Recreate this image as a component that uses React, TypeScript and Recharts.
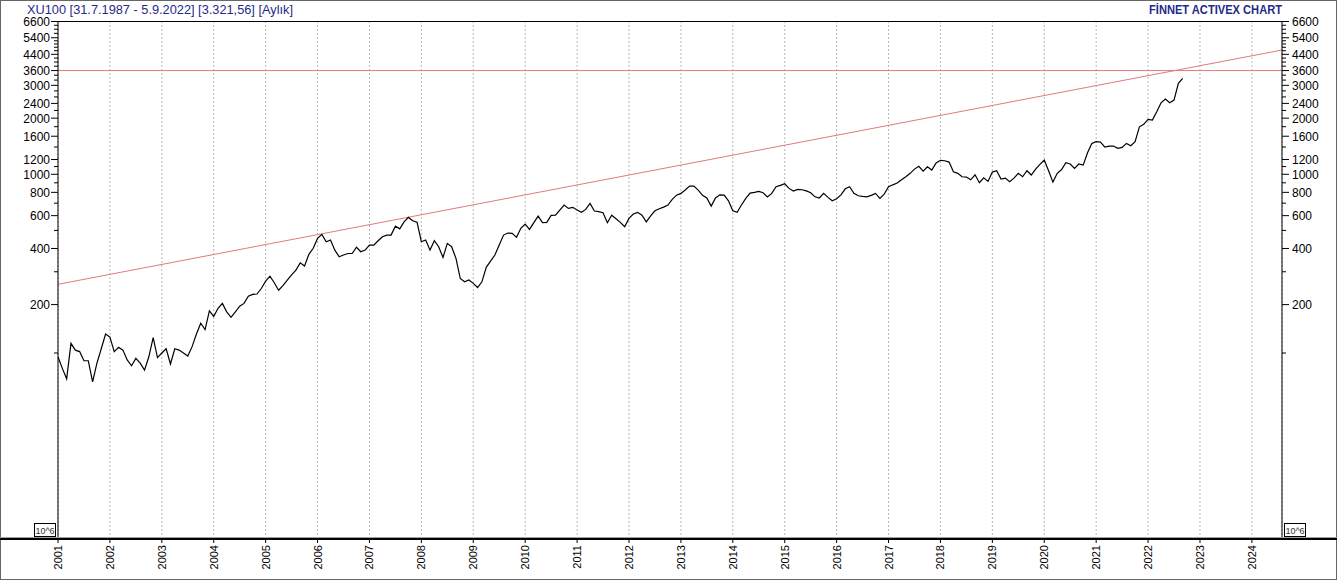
import { CartesianGrid, Line, LineChart, ReferenceLine, XAxis, YAxis } from 'recharts';

const W = 1337;
const H = 580;
const PLOT_LEFT = 58;
const PLOT_RIGHT = 1282;
const PLOT_TOP = 21;
const PLOT_BOTTOM = 538;

const startYear = 2001;

// monthly closes, Jan 2001 .. Sep 2022
const monthlyCloses = [
  105, 91, 80, 124, 114, 112, 100, 100, 77, 97, 116, 139, // 2001
  134, 112, 118, 114, 101, 94, 103, 97, 89, 105, 133, 104, // 2002
  110, 116, 96, 116, 114, 110, 106, 119, 139, 159, 147, 185, // 2003
  173, 191, 203, 183, 171, 183, 196, 203, 222, 227, 228, 244, // 2004
  267, 284, 262, 239, 253, 271, 289, 306, 335, 322, 372, 401, // 2005
  453, 476, 435, 444, 392, 361, 369, 376, 376, 406, 384, 392, // 2006
  417, 417, 440, 462, 472, 472, 527, 510, 556, 587, 563, 554, // 2007
  435, 444, 392, 440, 409, 358, 426, 409, 354, 276, 265, 271, // 2008
  260, 247, 265, 317, 342, 369, 417, 472, 484, 482, 459, 513, // 2009
  541, 506, 550, 597, 550, 552, 602, 603, 643, 684, 656, 665, // 2010
  643, 625, 648, 698, 635, 630, 622, 550, 603, 577, 552, 523, // 2011
  580, 612, 625, 603, 556, 599, 637, 653, 667, 684, 733, 773, // 2012
  790, 823, 865, 865, 823, 771, 746, 675, 746, 776, 774, 721, // 2013
  637, 625, 684, 743, 793, 800, 810, 796, 755, 790, 857, 872, // 2014
  890, 840, 813, 830, 826, 815, 796, 757, 746, 790, 752, 721, // 2015
  739, 776, 836, 857, 790, 767, 761, 757, 771, 790, 743, 783, // 2016
  857, 878, 897, 934, 970, 1012, 1066, 1103, 1040, 1097, 1054, 1149, // 2017
  1188, 1182, 1163, 1032, 1012, 970, 966, 934, 994, 901, 957, 916, // 2018
  1028, 1045, 943, 954, 912, 954, 1012, 970, 1045, 991, 1066, 1130, // 2019
  1192, 1045, 908, 1012, 1060, 1153, 1135, 1076, 1135, 1120, 1304, 1464, // 2020
  1495, 1490, 1400, 1417, 1417, 1377, 1395, 1464, 1422, 1495, 1798, 1852, // 2021
  1970, 1954, 2164, 2418, 2532, 2418, 2500, 3074, 3270, // 2022
];

const yearTicks = [
  2001, 2002, 2003, 2004, 2005, 2006, 2007, 2008, 2009, 2010, 2011, 2012,
  2013, 2014, 2015, 2016, 2017, 2018, 2019, 2020, 2021, 2022, 2023, 2024,
];
const majorTicks = [200, 400, 600, 800, 1000, 1200, 1600, 2000, 2400, 3000, 3600, 4400, 5400, 6600];
const minorTicks = [
  110, 300, 500, 700, 900, 1100, 1400, 1800, 2200, 2600, 2800, 3200, 3400,
  3800, 4000, 4200, 4600, 4800, 5000, 5200, 5700, 6000, 6300,
];
const allTicks = [...minorTicks, ...majorTicks].sort((a, b) => a - b);

const resistanceLevel = 3600;
const trendAnchors = [
  { t: 2001, v: 257 },
  { t: 2024.58, v: 4640 },
];

const X_DOMAIN: [number, number] = [2001, 2024.58];
const Y_DOMAIN: [number, number] = [11.2, 6640];

const data = monthlyCloses.map((close, i) => ({ t: startYear + i / 12, close }));

const FONT = '"Liberation Sans", Arial, sans-serif';
const NAVY = '#1f2a8a';
const RED = '#e07a7a';

const LeftTick = (props: any) => {
  const { y, payload } = props;
  const major = majorTicks.includes(payload.value);
  return (
    <g>
      <line x1={PLOT_LEFT - (major ? 7 : 4)} x2={PLOT_LEFT} y1={y} y2={y} stroke="#000" />
      {major && (
        <text x={PLOT_LEFT - 8} y={y} dy={4.5} textAnchor="end" fontSize={12} fontFamily={FONT} fill="#000">
          {payload.value}
        </text>
      )}
    </g>
  );
};

const RightTick = (props: any) => {
  const { y, payload } = props;
  const major = majorTicks.includes(payload.value);
  return (
    <g>
      <line x1={PLOT_RIGHT} x2={PLOT_RIGHT + (major ? 7 : 4)} y1={y} y2={y} stroke="#000" />
      {major && (
        <text x={PLOT_RIGHT + 10} y={y} dy={4.5} textAnchor="start" fontSize={12} fontFamily={FONT} fill="#000">
          {payload.value}
        </text>
      )}
    </g>
  );
};

const YearTick = (props: any) => {
  const { x, payload } = props;
  const ty = 545;
  return (
    <g>
      <line x1={x} x2={x} y1={PLOT_BOTTOM + 1} y2={PLOT_BOTTOM + 5} stroke="#000" />
      <text
        x={x}
        y={ty}
        transform={`rotate(-90, ${x}, ${ty})`}
        textAnchor="end"
        dominantBaseline="central"
        fontSize={11}
        fontFamily={FONT}
        fill="#000"
      >
        {payload.value}
      </text>
    </g>
  );
};

export default function App() {
  return (
    <div style={{ position: 'absolute', left: 0, top: 0, width: W, height: H, background: '#fff' }}>
      <LineChart
        width={W}
        height={H}
        data={data}
        margin={{ top: PLOT_TOP, right: 0, bottom: 0, left: 0 }}
      >
        <CartesianGrid vertical horizontal={false} stroke="#b8b8b8" strokeDasharray="2 2" />
        <XAxis
          dataKey="t"
          type="number"
          domain={X_DOMAIN}
          ticks={yearTicks}
          interval={0}
          allowDataOverflow
          height={H - PLOT_BOTTOM}
          axisLine={false}
          tickLine={false}
          tick={<YearTick />}
        />
        <YAxis
          scale="log"
          type="number"
          domain={Y_DOMAIN}
          ticks={allTicks}
          interval={0}
          allowDataOverflow
          width={PLOT_LEFT}
          axisLine={{ stroke: '#000' }}
          tickLine={false}
          tick={<LeftTick />}
        />
        <YAxis
          yAxisId="right"
          orientation="right"
          scale="log"
          type="number"
          domain={Y_DOMAIN}
          ticks={allTicks}
          interval={0}
          allowDataOverflow
          width={W - PLOT_RIGHT}
          axisLine={{ stroke: '#000' }}
          tickLine={false}
          tick={<RightTick />}
        />
        <ReferenceLine y={resistanceLevel} stroke={RED} strokeWidth={1} />
        <ReferenceLine
          segment={[
            { x: trendAnchors[0].t, y: trendAnchors[0].v },
            { x: trendAnchors[1].t, y: trendAnchors[1].v },
          ]}
          stroke={RED}
          strokeWidth={1}
        />
        <Line
          type="linear"
          dataKey="close"
          stroke="#000"
          strokeWidth={1.2}
          dot={false}
          isAnimationActive={false}
        />
      </LineChart>
      <svg
        width={W}
        height={H}
        style={{ position: 'absolute', left: 0, top: 0, pointerEvents: 'none' }}
      >
        <rect x={0.5} y={0.5} width={W - 1} height={H - 1} fill="none" stroke="#666" />
        <line x1={PLOT_LEFT} x2={PLOT_RIGHT} y1={PLOT_TOP + 0.5} y2={PLOT_TOP + 0.5} stroke="#000" />
        <line x1={0} x2={W} y1={PLOT_BOTTOM - 0.5} y2={PLOT_BOTTOM - 0.5} stroke="#a0a0a0" />
        <line x1={0} x2={W} y1={PLOT_BOTTOM + 1} y2={PLOT_BOTTOM + 1} stroke="#000" strokeWidth={2} />
        <rect x={34.5} y={523.5} width={21} height={13} fill="#fff" stroke="#000" />
        <text x={45} y={533.5} textAnchor="middle" fontSize={9} fontFamily={FONT} fill="#333">10^6</text>
        <rect x={1284.5} y={523.5} width={21} height={13} fill="#fff" stroke="#000" />
        <text x={1295} y={533.5} textAnchor="middle" fontSize={9} fontFamily={FONT} fill="#333">10^6</text>
        <text
          x={27}
          y={13.5}
          fontSize={12}
          fontFamily={FONT}
          fill={NAVY}
          textLength={266}
          lengthAdjust="spacingAndGlyphs"
        >
          XU100  [31.7.1987 - 5.9.2022]  [3.321,56]  [Aylık]
        </text>
        <text
          x={1149}
          y={13.5}
          fontSize={12}
          fontWeight="bold"
          fontFamily={FONT}
          fill={NAVY}
          textLength={133}
          lengthAdjust="spacingAndGlyphs"
        >
          FİNNET ACTIVEX CHART
        </text>
      </svg>
    </div>
  );
}
